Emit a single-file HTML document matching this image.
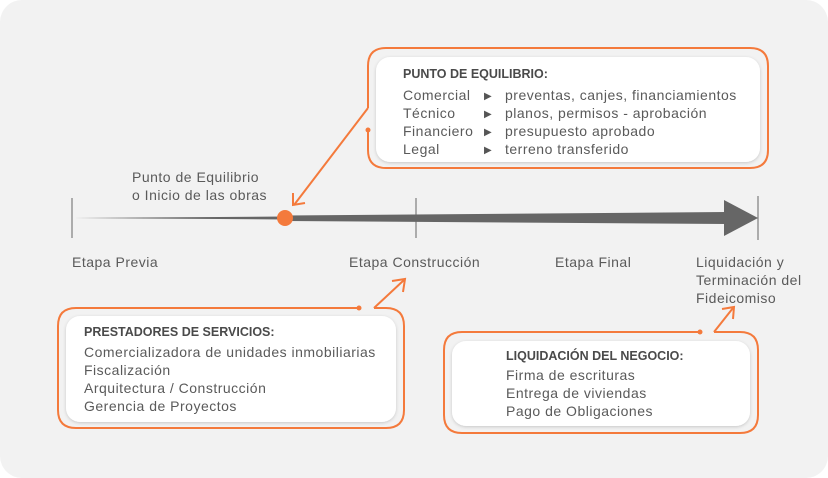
<!DOCTYPE html>
<html><head><meta charset="utf-8"><style>
html,body{margin:0;padding:0;background:#fff;}
svg{display:block;}
text{font-family:"Liberation Sans",sans-serif;fill:#5a5a5a;}
.h{font-weight:bold;font-size:12.5px;fill:#4a4a4a;}
.t{font-size:14px;letter-spacing:0.5px;}
</style></head><body>
<svg width="828" height="478" viewBox="0 0 828 478">
<defs>
<filter id="sh" x="-5%" y="-10%" width="110%" height="130%"><feDropShadow dx="0" dy="1" stdDeviation="1.5" flood-color="#000" flood-opacity="0.18"/></filter>
</defs>
<rect x="0" y="0" width="828" height="478" rx="22" fill="#f2f2f2"/>
<line x1="72" y1="198" x2="72" y2="238" stroke="#666" stroke-width="1"/>
<line x1="416" y1="198" x2="416" y2="238" stroke="#666" stroke-width="1"/>
<line x1="758" y1="196" x2="758" y2="240" stroke="#666" stroke-width="1"/>
<polygon points="74,218 285,216.5 285,219.5" fill="#666"/>
<polygon points="285,215.5 726,212 726,224 285,221" fill="#666"/>
<polygon points="724,200 758,218 724,236" fill="#666"/>
<circle cx="285" cy="218" r="8" fill="#f47a3c"/>
<text class="t" x="132" y="182">Punto de Equilibrio</text>
<text class="t" x="132" y="200">o Inicio de las obras</text>
<text class="t" x="72" y="267">Etapa Previa</text>
<text class="t" x="349" y="267">Etapa Construcción</text>
<text class="t" x="555" y="267">Etapa Final</text>
<text class="t" x="696" y="267">Liquidación y</text>
<text class="t" x="696" y="285">Terminación del</text>
<text class="t" x="696" y="303">Fideicomiso</text>
<path d="M368,108 L368,66 Q368,48 386,48 L750,48 Q768,48 768,66 L768,150 Q768,168 750,168 L386,168 Q368,168 368,150 L368,130" fill="none" stroke="#f47a3c" stroke-width="2"/>
<circle cx="368" cy="130" r="2.5" fill="#f47a3c"/>
<line x1="368" y1="108" x2="294" y2="205" stroke="#f47a3c" stroke-width="2"/>
<polyline points="293,193 293,205 305,203" fill="none" stroke="#f47a3c" stroke-width="2"/>
<rect x="376" y="57" width="384" height="105" rx="14" fill="#fff" filter="url(#sh)"/>
<text class="h" x="403" y="78">PUNTO DE EQUILIBRIO:</text>
<text class="t" x="403" y="100">Comercial</text><text x="484" y="99" style="font-size:10px;fill:#555">▶</text><text class="t" x="505" y="100">preventas, canjes, financiamientos</text>
<text class="t" x="403" y="118">Técnico</text><text x="484" y="117" style="font-size:10px;fill:#555">▶</text><text class="t" x="505" y="118">planos, permisos - aprobación</text>
<text class="t" x="403" y="136">Financiero</text><text x="484" y="135" style="font-size:10px;fill:#555">▶</text><text class="t" x="505" y="136">presupuesto aprobado</text>
<text class="t" x="403" y="154">Legal</text><text x="484" y="153" style="font-size:10px;fill:#555">▶</text><text class="t" x="505" y="154">terreno transferido</text>
<path d="M359,308 L76,308 Q58,308 58,326 L58,410 Q58,428 76,428 L386,428 Q404,428 404,410 L404,326 Q404,308 386,308 L374,308" fill="none" stroke="#f47a3c" stroke-width="2"/>
<circle cx="359" cy="308" r="2.5" fill="#f47a3c"/>
<line x1="374" y1="308" x2="404" y2="280" stroke="#f47a3c" stroke-width="2"/>
<polyline points="392,281 405,279 403,292" fill="none" stroke="#f47a3c" stroke-width="2"/>
<rect x="66" y="316" width="330" height="106" rx="14" fill="#fff" filter="url(#sh)"/>
<text class="h" x="84" y="336">PRESTADORES DE SERVICIOS:</text>
<text class="t" x="84" y="357">Comercializadora de unidades inmobiliarias</text>
<text class="t" x="84" y="375">Fiscalización</text>
<text class="t" x="84" y="393">Arquitectura / Construcción</text>
<text class="t" x="84" y="411">Gerencia de Proyectos</text>
<path d="M700,332 L462,332 Q444,332 444,350 L444,415 Q444,433 462,433 L740,433 Q758,433 758,415 L758,350 Q758,332 740,332 L714,332" fill="none" stroke="#f47a3c" stroke-width="2"/>
<circle cx="700" cy="332" r="2.5" fill="#f47a3c"/>
<line x1="714" y1="332" x2="733" y2="308" stroke="#f47a3c" stroke-width="2"/>
<polyline points="722,309 734,307 733,319" fill="none" stroke="#f47a3c" stroke-width="2"/>
<rect x="452" y="341" width="298" height="85" rx="14" fill="#fff" filter="url(#sh)"/>
<text class="h" x="506" y="360">LIQUIDACIÓN DEL NEGOCIO:</text>
<text class="t" x="506" y="380">Firma de escrituras</text>
<text class="t" x="506" y="398">Entrega de viviendas</text>
<text class="t" x="506" y="416">Pago de Obligaciones</text>
</svg>
</body></html>
